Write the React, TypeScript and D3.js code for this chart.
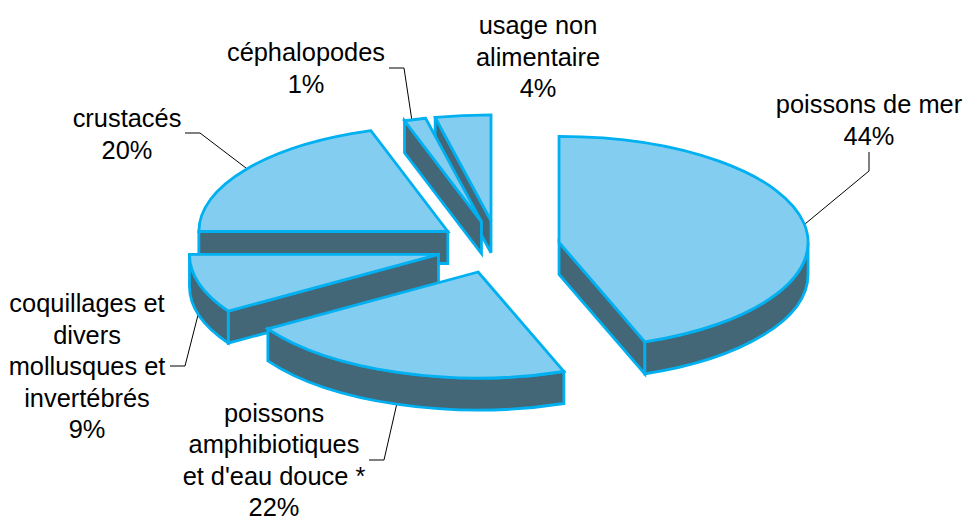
import React from 'react';
import * as d3 from 'd3';

const categories = [
  'poissons de mer',
  "poissons amphibiotiques et d'eau douce *",
  'coquillages et divers mollusques et invertébrés',
  'crustacés',
  'céphalopodes',
  'usage non alimentaire',
];
const shares = [44.4, 21.6, 9.0, 20.0, 1.4, 3.6];

// label text broken as in the picture, same order as categories
const labelLines = [
  ['poissons de mer', '44%'],
  ['poissons', 'amphibiotiques', "et d'eau douce *", '22%'],
  ['coquillages et', 'divers', 'mollusques et', 'invertébrés', '9%'],
  ['crustacés', '20%'],
  ['céphalopodes', '1%'],
  ['usage non', 'alimentaire', '4%'],
];
const labelAnchors = [
  [869, 113],
  [274, 421.5],
  [87, 312],
  [127, 127],
  [306, 61],
  [538, 34],
];
const leaders = [
  [[805, 224], [869, 171], [869, 152]],
  [[397, 403], [384, 460], [369, 460]],
  [[198, 315], [185, 366], [170, 366]],
  [[246, 168], [200, 133], [185, 133]],
  [[412, 121], [404, 68], [389, 68]],
];

const WIDTH = 966;
const HEIGHT = 519;
const cx = 498;
const cy = 247;
const rx = 249;
const ry = 106;
const depth = 32;
const explode = 62;
const lineHeight = 31.6;

const topColor = '#83CEF0';
const wallColor = '#446778';
const edgeColor = '#00B0F0';

const pie = d3.pie<number>().sort(null).value(d => d);

const arcs = pie(shares).map((d, i) => {
  const mid = (d.startAngle + d.endAngle) / 2;
  return {
    index: i,
    start: d.startAngle,
    end: d.endAngle,
    ox: cx + explode * Math.sin(mid),
    oy: cy - (explode * ry * Math.cos(mid)) / rx,
  };
});

type Slice = (typeof arcs)[number];

const rim = (s: Slice, a: number, dy = 0): [number, number] => [
  s.ox + rx * Math.sin(a),
  s.oy - ry * Math.cos(a) + dy,
];

const ellipseTo = (p: [number, number], sweep: number, large = 0) =>
  `A${rx},${ry} 0 ${large} ${sweep} ${p[0]},${p[1]}`;

const topPath = (s: Slice) => {
  const large = s.end - s.start > Math.PI ? 1 : 0;
  return `M${s.ox},${s.oy}L${rim(s, s.start)}${ellipseTo(rim(s, s.end), 1, large)}Z`;
};

const radialWall = (s: Slice, a: number) => {
  const p = rim(s, a);
  const q = rim(s, a, depth);
  return `M${s.ox},${s.oy}L${p}L${q}L${s.ox},${s.oy + depth}Z`;
};

// only the part of the rim facing the viewer gets a wall
const rimWall = (s: Slice) => {
  const a = Math.max(s.start, Math.PI / 2);
  const b = Math.min(s.end, (3 * Math.PI) / 2);
  if (a >= b) return null;
  return `M${rim(s, a)}${ellipseTo(rim(s, b), 1)}L${rim(s, b, depth)}${ellipseTo(rim(s, a, depth), 0)}Z`;
};

const leaderLine = d3.line();
const drawOrder = [...arcs].sort((p, q) => d3.ascending(p.oy, q.oy));

const App = () => (
  <svg
    width={WIDTH}
    height={HEIGHT}
    style={{ position: 'absolute', left: 0, top: 0, background: '#fff' }}
    fontFamily="'Liberation Sans', Arial, sans-serif"
  >
    {leaders.map((pts, i) => (
      <path key={i} d={leaderLine(pts as [number, number][]) ?? ''} fill="none" stroke="#000" strokeWidth={1} />
    ))}
    {drawOrder.map(s => {
      const walls = [
        Math.sin(s.start) < -1e-6 ? radialWall(s, s.start) : null,
        Math.sin(s.end) > 1e-6 ? radialWall(s, s.end) : null,
        rimWall(s),
      ];
      return (
        <g key={categories[s.index]} stroke={edgeColor} strokeWidth={2.8} strokeLinejoin="miter">
          {walls.map((d, j) => d && <path key={j} d={d} fill={wallColor} />)}
          <path d={topPath(s)} fill={topColor} />
        </g>
      );
    })}
    {labelLines.map((lines, i) => (
      <text key={i} textAnchor="middle" fontSize={25.4} fill="#000">
        {lines.map((t, j) => (
          <tspan key={j} x={labelAnchors[i][0]} y={labelAnchors[i][1] + j * lineHeight}>
            {t}
          </tspan>
        ))}
      </text>
    ))}
  </svg>
);

export default App;
